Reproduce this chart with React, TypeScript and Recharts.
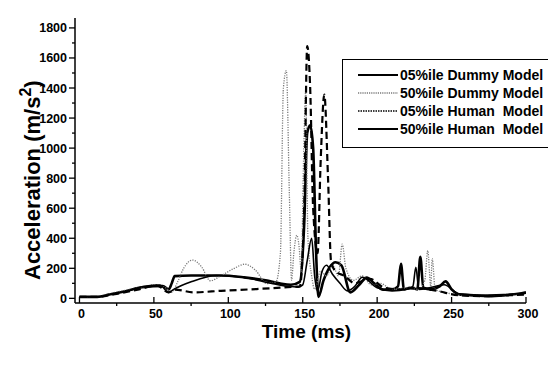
import { LineChart, Line, XAxis, YAxis, Legend } from "recharts"

// time (ms) and acceleration (m/s^2), one pair of arrays per curve
const dummy05Time = [0, 12, 20, 30, 40, 50, 56, 60, 62, 64, 75, 96, 110, 125, 135, 142, 148, 151, 153, 155, 157, 159, 160.5, 164, 168, 172, 176, 182, 188, 193, 198, 204, 210, 214, 216, 218, 222, 227, 229, 231, 236, 242, 246, 250, 256, 265, 275, 285, 295, 300]
const dummy05Acc = [10, 10, 25, 45, 70, 80, 82, 60, 100, 148, 152, 152, 140, 120, 98, 90, 110, 500, 1100, 1152, 1000, 300, 10, 120, 205, 240, 220, 40, 90, 138, 100, 58, 60, 80, 230, 60, 70, 60, 277, 70, 60, 80, 113, 60, 25, 20, 15, 20, 30, 40]

const dummy50Time = [0, 12, 22, 32, 42, 50, 58, 62, 66, 70, 76, 82, 88, 95, 104, 111, 118, 126, 132, 135, 137, 139, 141, 142.5, 144, 146, 147.5, 149, 150.5, 152, 153.5, 156, 158, 162, 166, 170, 174, 176.5, 179, 184, 190, 196, 202, 210, 220, 228, 232, 234, 236, 237, 239, 245, 255, 265, 275, 285, 300]
const dummy50Acc = [10, 12, 35, 55, 75, 90, 70, 40, 110, 200, 255, 210, 117, 150, 200, 227, 190, 98, 110, 300, 1400, 1515, 700, 120, 300, 420, 350, 180, 900, 1380, 400, 150, 60, 180, 150, 220, 150, 361, 200, 120, 150, 90, 100, 60, 70, 60, 120, 318, 80, 265, 60, 40, 25, 20, 20, 25, 30]

const human05Time = [0, 12, 25, 40, 52, 60, 64, 77, 95, 115, 130, 140, 148, 151, 153, 155, 157, 160, 162, 164.5, 167, 169, 172, 178, 185, 195, 205, 215, 225, 240, 255, 270, 285, 300]
const human05Acc = [10, 10, 30, 60, 85, 40, 58, 40, 50, 60, 68, 75, 80, 600, 1679, 1400, 600, 300, 900, 1356, 800, 250, 180, 150, 100, 130, 70, 60, 70, 50, 20, 15, 20, 25]

const human50Time = [0, 12, 22, 32, 44, 54, 60, 63, 75, 92, 110, 130, 140, 147, 150, 153, 156, 158, 160, 163, 166, 170, 175, 180, 185, 190, 200, 210, 220, 224, 226, 228, 235, 245, 255, 270, 285, 300]
const human50Acc = [10, 10, 30, 50, 80, 88, 40, 58, 110, 152, 140, 98, 80, 75, 90, 250, 400, 150, 50, 180, 220, 160, 100, 50, 80, 140, 70, 50, 60, 80, 207, 60, 70, 90, 30, 20, 25, 35]

const xTicks = [0, 25, 50, 75, 100, 125, 150, 175, 200, 225, 250, 275, 300]
const yTicks = [0, 100, 200, 300, 400, 500, 600, 700, 800, 900, 1000, 1100, 1200, 1300, 1400, 1500, 1600, 1700, 1800]

const FONT = "'Liberation Sans', Arial, Helvetica, sans-serif"

const toPoints = (ts: number[], vs: number[]) => ts.map((t, i) => ({ t, v: vs[i] }))

const series = [
  { name: "05%ile Dummy Model", data: toPoints(dummy05Time, dummy05Acc), stroke: "#000", width: 2.6, dash: undefined, legendDash: undefined, legendWidth: 2.2 },
  { name: "50%ile Dummy Model", data: toPoints(dummy50Time, dummy50Acc), stroke: "#7a7a7a", width: 1.3, dash: "1.2 1.3", legendDash: "1.2 1", legendWidth: 1.4 },
  { name: "05%ile Human  Model", data: toPoints(human05Time, human05Acc), stroke: "#000", width: 2.2, dash: "7 4", legendDash: "1.5 1", legendWidth: 1.3 },
  { name: "50%ile Human  Model", data: toPoints(human50Time, human50Acc), stroke: "#000", width: 1.6, dash: undefined, legendDash: undefined, legendWidth: 2 },
]

function XTick({ x, y, payload }: any) {
  const major = payload.value % 50 === 0
  return (
    <g>
      <line x1={x} x2={x} y1={y} y2={major ? y - 6 : y + 3} stroke="#000" strokeWidth={1.3} />
      {major && (
        <text x={x + 2} y={y + 15} textAnchor="middle" fontFamily={FONT} fontWeight="bold" fontSize={12.5} fill="#000">
          {payload.value}
        </text>
      )}
    </g>
  )
}

function YTick({ x, y, payload }: any) {
  const major = payload.value % 200 === 0
  return (
    <g>
      <line x1={x} x2={x - (major ? 6 : 3)} y1={y} y2={y} stroke="#000" strokeWidth={1.3} />
      {major && (
        <text x={x - 8} y={y + 4.5} textAnchor="end" fontFamily={FONT} fontWeight="bold" fontSize={12.5} fill="#000">
          {payload.value}
        </text>
      )}
    </g>
  )
}

function XTitle({ viewBox }: any) {
  return (
    <text x={viewBox.x + viewBox.width / 2 + 6} y={viewBox.y + 35} textAnchor="middle" fontFamily={FONT} fontWeight="bold" fontSize={19} fill="#000">
      Time (ms)
    </text>
  )
}

function YTitle() {
  const cx = 40
  const cy = 280
  return (
    <text x={cx} y={cy} transform={`rotate(-90, ${cx}, ${cy})`} textAnchor="start" fontFamily={FONT} fontWeight="bold" fontSize={22} fill="#000">
      Acceleration (m/s<tspan dy={-9} fontSize={16}>2</tspan><tspan dy={9}>)</tspan>
    </text>
  )
}

function LegendBox() {
  return (
    <div
      style={{
        border: "1px solid #000",
        padding: "6px 0 9px 15px",
        background: "#fff",
        fontFamily: FONT,
        fontWeight: "bold",
        fontSize: 14,
        color: "#000",
      }}
    >
      {series.map((s) => (
        <div key={s.name} style={{ display: "flex", alignItems: "center", height: 18, whiteSpace: "pre" }}>
          <svg width={40} height={18} style={{ marginRight: 2, flex: "none" }}>
            <line x1={0} x2={40} y1={9} y2={9} stroke={s.stroke} strokeWidth={s.legendWidth} strokeDasharray={s.legendDash} />
          </svg>
          <span>{s.name}</span>
        </div>
      ))}
    </div>
  )
}

export default function App() {
  return (
    <div style={{ position: "absolute", left: 0, top: 0, width: 548, height: 381, overflow: "hidden", background: "#fff" }}>
      <LineChart width={548} height={381} margin={{ top: 18, right: 22, bottom: 39, left: 0 }}>
        <XAxis
          dataKey="t"
          type="number"
          domain={[-3, 300]}
          ticks={xTicks}
          interval={0}
          allowDataOverflow
          tickSize={0}
          tickMargin={0}
          tickLine={false}
          tick={<XTick />}
          height={39}
          axisLine={{ stroke: "#000", strokeWidth: 1.5 }}
          label={{ content: <XTitle /> }}
        />
        <YAxis
          type="number"
          domain={[-31, 1866]}
          ticks={yTicks}
          interval={0}
          allowDataOverflow
          tickSize={0}
          tickMargin={0}
          tickLine={false}
          tick={<YTick />}
          width={75}
          axisLine={{ stroke: "#000", strokeWidth: 1.5 }}
          label={{ content: <YTitle /> }}
        />
        <Legend
          layout="vertical"
          align="center"
          verticalAlign="middle"
          content={<LegendBox />}
          wrapperStyle={{ left: 342, top: 59, width: 240, right: "auto", bottom: "auto" }}
        />
        {series.map((s) => (
          <Line
            key={s.name}
            data={s.data}
            dataKey="v"
            name={s.name}
            type="monotone"
            stroke={s.stroke}
            strokeWidth={s.width}
            strokeDasharray={s.dash}
            dot={false}
            activeDot={false}
            isAnimationActive={false}
          />
        ))}
      </LineChart>
    </div>
  )
}
